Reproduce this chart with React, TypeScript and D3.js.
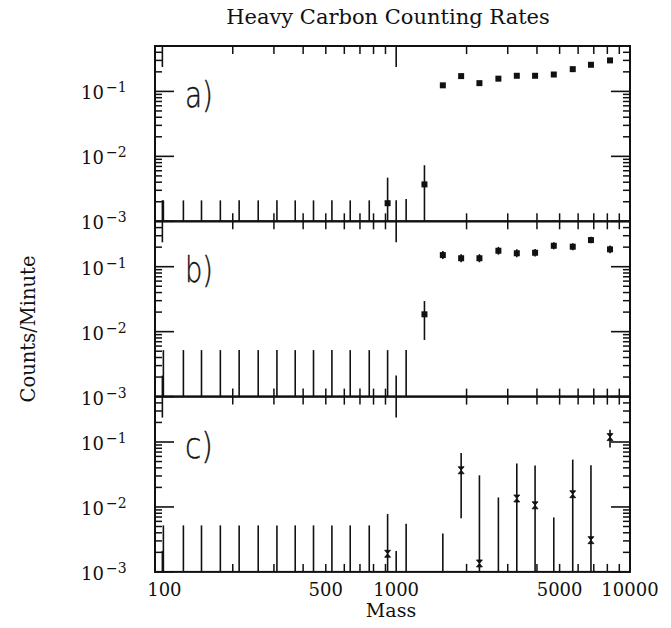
import React from 'react';
import * as d3 from 'd3';

const W = 671;
const H = 628;

const title = 'Heavy Carbon Counting Rates';
const xLabel = 'Mass';
const yLabel = 'Counts/Minute';
const panelLabels = ['a)', 'b)', 'c)'];
const xTickLabels = [100, 500, 1000, 5000, 10000];
const yTickExps = [-3, -2, -1];
const xDomain = [93, 10000];
const yDomain = [0.001, 0.5];
const xMajorTicks = [100, 1000, 10000];
const xMinorTicks = [200, 300, 400, 500, 600, 700, 800, 900, 2000, 3000, 4000, 5000, 6000, 7000, 8000, 9000];
const yMajorTicks = [0.001, 0.01, 0.1];
const yMinorTicks = [0.002, 0.003, 0.004, 0.005, 0.006, 0.007, 0.008, 0.009, 0.02, 0.03, 0.04, 0.05, 0.06, 0.07, 0.08, 0.09, 0.2, 0.3, 0.4];

// bin centres (mass)
const masses = [101, 123, 147, 177, 213, 257, 309, 370, 443, 531, 636, 767, 919, 1103, 1321, 1583, 1896, 2270, 2736, 3280, 3927, 4721, 5690, 6808, 8214];

// panel a) : rate (0 = upper limit only), error bar low/high
const rateA = [0, 0, 0, 0, 0, 0, 0, 0, 0, 0, 0, 0, 0.0019, 0, 0.0037, 0.124, 0.172, 0.134, 0.157, 0.174, 0.174, 0.182, 0.22, 0.257, 0.30];
const highA = [0.0021, 0.0021, 0.0021, 0.0021, 0.0021, 0.0021, 0.0021, 0.0021, 0.0021, 0.0021, 0.0021, 0.0021, 0.0047, 0.0022, 0.0073, 0.129, 0.179, 0.139, 0.163, 0.181, 0.181, 0.189, 0.229, 0.267, 0.312];
const lowA = [0.001, 0.001, 0.001, 0.001, 0.001, 0.001, 0.001, 0.001, 0.001, 0.001, 0.001, 0.001, 0.001, 0.001, 0.001, 0.119, 0.165, 0.129, 0.151, 0.167, 0.167, 0.175, 0.211, 0.247, 0.288];

// panel b)
const rateB = [0, 0, 0, 0, 0, 0, 0, 0, 0, 0, 0, 0, 0, 0, 0.0185, 0.151, 0.135, 0.135, 0.176, 0.161, 0.164, 0.21, 0.203, 0.257, 0.185];
const highB = [0.0052, 0.0052, 0.0052, 0.0052, 0.0052, 0.0052, 0.0052, 0.0052, 0.0052, 0.0052, 0.0052, 0.0052, 0.0052, 0.0052, 0.0296, 0.174, 0.156, 0.156, 0.202, 0.185, 0.188, 0.238, 0.230, 0.288, 0.212];
const lowB = [0.001, 0.001, 0.001, 0.001, 0.001, 0.001, 0.001, 0.001, 0.001, 0.001, 0.001, 0.001, 0.001, 0.001, 0.00745, 0.131, 0.117, 0.117, 0.153, 0.140, 0.143, 0.185, 0.179, 0.229, 0.161];

// panel c)  (null = bin not shown)
const rateC = [0, 0, 0, 0, 0, 0, 0, 0, 0, 0, 0, 0, 0.0019, 0, null, 0, 0.0367, 0.00135, 0, 0.0135, 0.0106, 0, 0.0157, 0.00308, 0.119];
const highC = [0.0052, 0.0052, 0.0052, 0.0052, 0.0052, 0.0052, 0.0052, 0.0052, 0.0052, 0.0052, 0.0052, 0.0052, 0.0078, 0.0055, null, 0.0039, 0.0677, 0.0307, 0.014, 0.0466, 0.0434, 0.0069, 0.0536, 0.0437, 0.155];
const lowC = [0.001, 0.001, 0.001, 0.001, 0.001, 0.001, 0.001, 0.001, 0.001, 0.001, 0.001, 0.001, 0.001, 0.001, null, 0.001, 0.0067, 0.001, 0.001, 0.001, 0.001, 0.001, 0.001, 0.001, 0.082];

const panels = [
  { rate: rateA, high: highA, low: lowA, marker: 'square' },
  { rate: rateB, high: highB, low: lowB, marker: 'square' },
  { rate: rateC, high: highC, low: lowC, marker: 'hourglass' },
];

const LEFT = 155;
const RIGHT = 630;
const TOP = 46;
const PH = 175.3;
const SERIF = '"DejaVu Serif", serif';

export default function App() {
  const x = d3.scaleLog().domain(xDomain).range([LEFT, RIGHT]);
  return (
    <svg width={W} height={H} viewBox={`0 0 ${W} ${H}`} style={{ display: 'block', position: 'absolute', left: 0, top: 0, background: '#fff' }}>
      <rect x={0} y={0} width={W} height={H} fill="#fff" />
      <text x={388} y={24} textAnchor="middle" fontFamily={SERIF} fontSize={21} fill="#111">{title}</text>
      {panels.map((p, pi) => {
        const top = TOP + pi * PH;
        const bottom = top + PH;
        const y = d3.scaleLog().domain(yDomain).range([bottom, top]);
        return (
          <g key={pi}>
            {xMajorTicks.map((t) => (
              <g key={'xM' + t}>
                <line x1={x(t)} x2={x(t)} y1={top} y2={top + 21} stroke="#111" strokeWidth={1.6} />
                <line x1={x(t)} x2={x(t)} y1={bottom} y2={bottom - 21} stroke="#111" strokeWidth={1.6} />
              </g>
            ))}
            {xMinorTicks.map((t) => (
              <g key={'xm' + t}>
                <line x1={x(t)} x2={x(t)} y1={top} y2={top + 8} stroke="#111" strokeWidth={1.5} />
                <line x1={x(t)} x2={x(t)} y1={bottom} y2={bottom - 8} stroke="#111" strokeWidth={1.5} />
              </g>
            ))}
            {yMajorTicks.map((t) => (
              <g key={'yM' + t}>
                <line x1={LEFT} x2={LEFT + 19} y1={y(t)} y2={y(t)} stroke="#111" strokeWidth={1.6} />
                <line x1={RIGHT} x2={RIGHT - 19} y1={y(t)} y2={y(t)} stroke="#111" strokeWidth={1.6} />
              </g>
            ))}
            {yMinorTicks.map((t) => (
              <g key={'ym' + t}>
                <line x1={LEFT} x2={LEFT + 7} y1={y(t)} y2={y(t)} stroke="#111" strokeWidth={1.5} />
                <line x1={RIGHT} x2={RIGHT - 7} y1={y(t)} y2={y(t)} stroke="#111" strokeWidth={1.5} />
              </g>
            ))}
            {masses.map((m, i) => {
              const r = p.rate[i];
              const hi = p.high[i];
              const lo = p.low[i];
              if (hi === null || hi === undefined) return null;
              const cx = x(m);
              const cy = r ? y(r) : 0;
              return (
                <g key={'d' + i}>
                  <line x1={cx} x2={cx} y1={y(lo as number)} y2={y(hi)} stroke="#111" strokeWidth={1.6} />
                  {r ? (
                    p.marker === 'square' ? (
                      <rect x={cx - 3} y={cy - 3} width={6} height={6} fill="#111" />
                    ) : (
                      <path d={`M${cx - 3},${cy - 3.5}L${cx + 3},${cy - 3.5}L${cx - 3},${cy + 3.5}L${cx + 3},${cy + 3.5}Z`} fill="#111" stroke="#111" strokeWidth={0.8} />
                    )
                  ) : null}
                </g>
              );
            })}
            <rect x={LEFT} y={top} width={RIGHT - LEFT} height={PH} fill="none" stroke="#111" strokeWidth={2} />
            {yTickExps.map((e) => {
              const ty = y(Math.pow(10, e));
              return (
                <g key={'yl' + e} fontFamily={SERIF} fill="#111">
                  <text x={104} y={ty + 8} textAnchor="end" fontSize={18}>10</text>
                  <text x={106} y={ty + 1} textAnchor="start" fontSize={14}>{'\u2212' + Math.abs(e)}</text>
                </g>
              );
            })}
            <text x={185} y={top + 61} fontFamily='"DejaVu Sans", sans-serif' fontWeight={200} fontSize={35} textLength={28} lengthAdjust="spacingAndGlyphs" fill="#111" stroke="#111" strokeWidth={0.4}>{panelLabels[pi]}</text>
          </g>
        );
      })}
      {xTickLabels.map((t) => (
        <text key={'xl' + t} x={t === 100 ? x(t) + 2 : x(t)} y={596} textAnchor="middle" fontFamily={SERIF} fontSize={18} fill="#111">{String(t)}</text>
      ))}
      <text x={391} y={617} textAnchor="middle" fontFamily={SERIF} fontSize={19} fill="#111">{xLabel}</text>
      <text transform="translate(35,329) rotate(-90)" textAnchor="middle" fontFamily={SERIF} fontSize={19.5} fill="#111">{yLabel}</text>
    </svg>
  );
}
